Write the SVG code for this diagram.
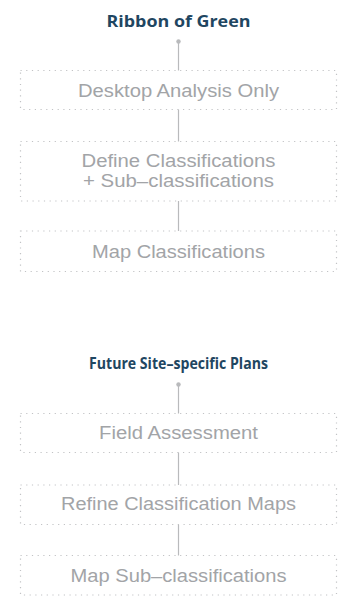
<svg xmlns="http://www.w3.org/2000/svg" width="341" height="598" viewBox="0 0 341 598">
<style>
.title{font-family:"Open Sans","Liberation Sans",Arial,sans-serif;font-weight:bold;font-size:16.5px;fill:#1f4661;text-anchor:middle}
.lbl{font-family:"Liberation Sans",Arial,sans-serif;font-size:17.5px;fill:#a2a4a7;text-anchor:middle}
.box{fill:none;stroke:#c2c3c5;stroke-width:1.2;stroke-dasharray:1.2 4.5}
.con{stroke:#b9babc;stroke-width:1.2;fill:none}
.dot{fill:#b9babc}
</style>
<rect width="341" height="598" fill="#ffffff"/>
<g id="title1"><text class="title" x="178.5" y="27" textLength="144" lengthAdjust="spacingAndGlyphs">Ribbon of Green</text></g>
<g id="title2"><text class="title" x="178.5" y="368.5" textLength="179" lengthAdjust="spacingAndGlyphs">Future Site–specific Plans</text></g>
<g id="connectors">
<circle class="dot" cx="178.5" cy="41.5" r="2.2"/>
<line class="con" x1="178.5" y1="41.5" x2="178.5" y2="70.5"/>
<line class="con" x1="178.5" y1="109.5" x2="178.5" y2="141.5"/>
<line class="con" x1="178.5" y1="201" x2="178.5" y2="231"/>
<circle class="dot" cx="178.5" cy="384.5" r="2.2"/>
<line class="con" x1="178.5" y1="384.5" x2="178.5" y2="413.5"/>
<line class="con" x1="178.5" y1="452.5" x2="178.5" y2="485"/>
<line class="con" x1="178.5" y1="524.5" x2="178.5" y2="555.5"/>
</g>
<g id="node1"><rect class="box" x="20.5" y="70.5" width="316" height="39"/><text class="lbl" x="178.5" y="96.5" textLength="201" lengthAdjust="spacingAndGlyphs">Desktop Analysis Only</text></g>
<g id="node2"><rect class="box" x="20.5" y="141.5" width="316" height="59.5"/><text class="lbl"><tspan x="178.5" y="167.3" textLength="194" lengthAdjust="spacingAndGlyphs">Define Classifications</tspan><tspan x="178.5" y="187.3" textLength="191" lengthAdjust="spacingAndGlyphs">+ Sub–classifications</tspan></text></g>
<g id="node3"><rect class="box" x="20.5" y="231" width="316" height="40.5"/><text class="lbl" x="178.5" y="258" textLength="173" lengthAdjust="spacingAndGlyphs">Map Classifications</text></g>
<g id="node4"><rect class="box" x="20.5" y="413.5" width="316" height="39"/><text class="lbl" x="178.5" y="439" textLength="159" lengthAdjust="spacingAndGlyphs">Field Assessment</text></g>
<g id="node5"><rect class="box" x="20.5" y="485" width="316" height="39.5"/><text class="lbl" x="178.5" y="510" textLength="235" lengthAdjust="spacingAndGlyphs">Refine Classification Maps</text></g>
<g id="node6"><rect class="box" x="20.5" y="555.5" width="316" height="39.5"/><text class="lbl" x="178.5" y="581.5" textLength="216" lengthAdjust="spacingAndGlyphs">Map Sub–classifications</text></g>
</svg>
